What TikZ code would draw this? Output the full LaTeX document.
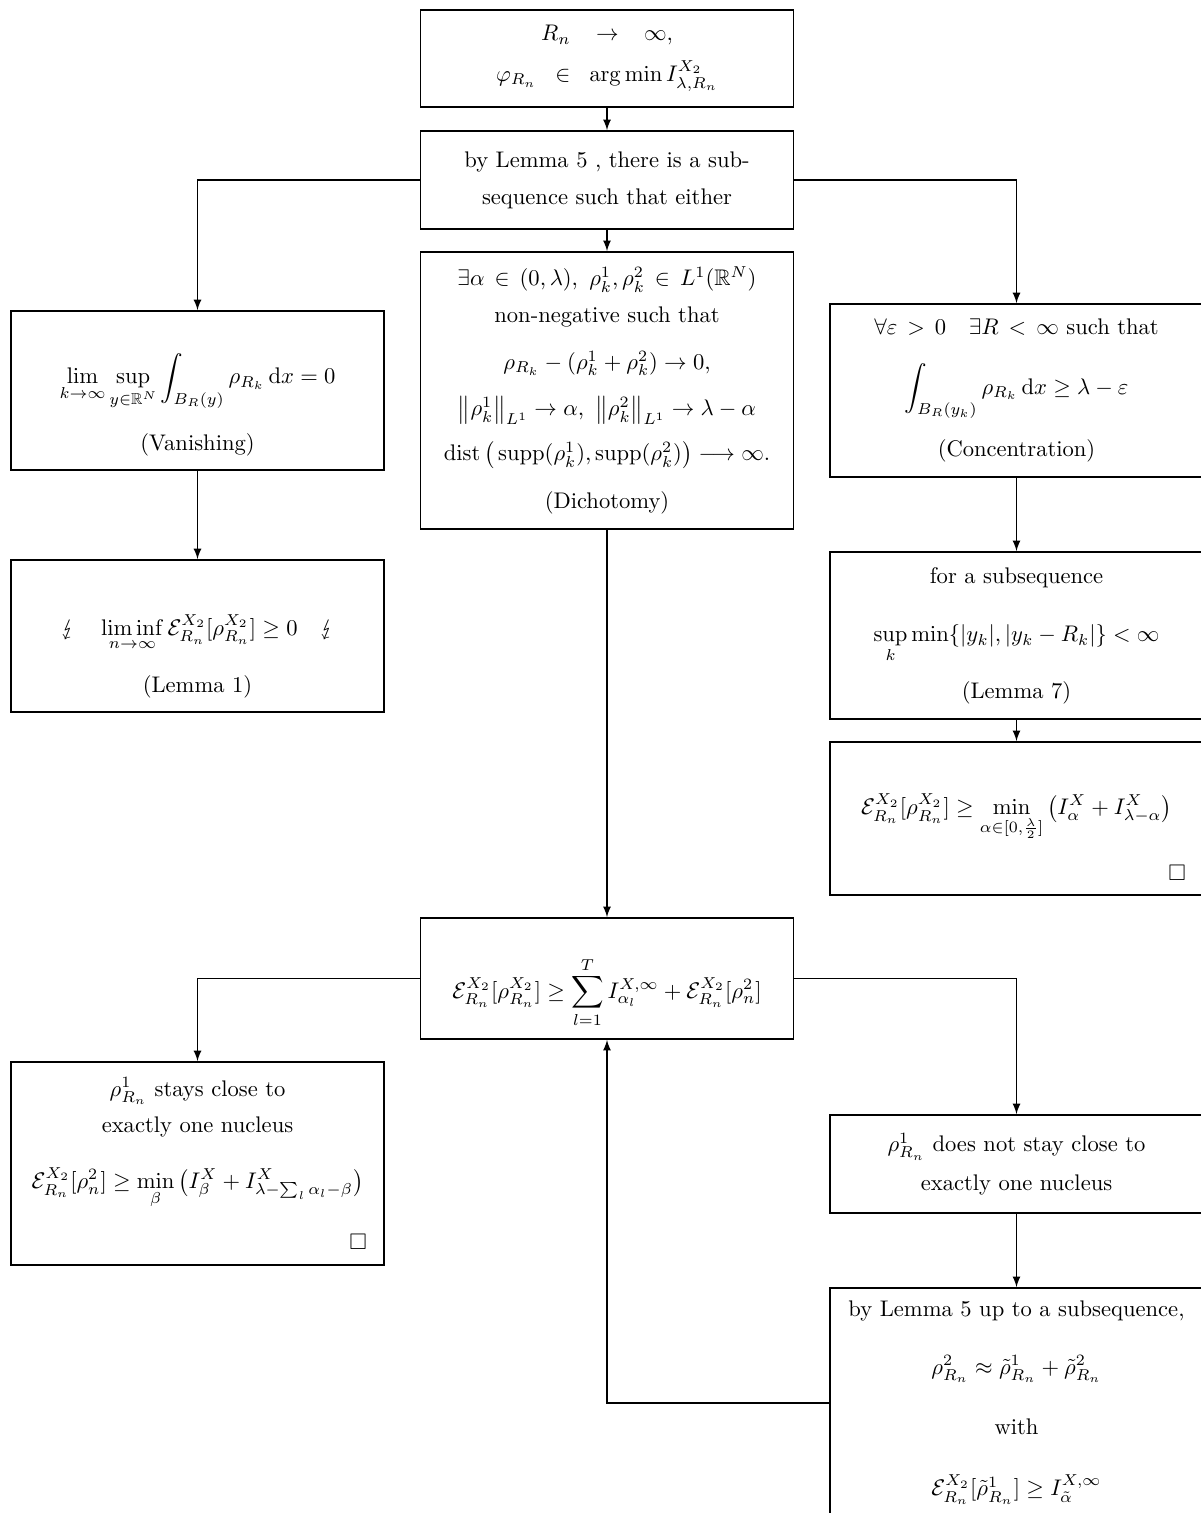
\documentclass[tikz,border=0pt]{standalone}
\usepackage{amsmath,amssymb}
\usepackage{stmaryrd}
\usepackage{tikz}

\begin{document}
\begin{tikzpicture}[x=0.4429pt,y=-0.4429pt,>=latex]
  \tikzstyle{block}=[rectangle,draw,thick,align=center,minimum width=165.2pt,inner sep=3.33pt]
  \tikzstyle{every node}=[block]
  \useasboundingbox (0,0) rectangle (1200,1513);
  \node[minimum height=43pt] (start) at (607,58.5) {$R_n\hskip8.5pt\to\hskip8.5pt\infty,$\\[6pt] $\varphi_{R_n}\;\;\in\;\;\arg\min I^{X_2}_{\lambda,R_n}$};
  \node[minimum height=43.4pt] (lemma5) at (607,180) {by Lemma 5 , there is a sub-\\[4.4pt] sequence such that either};
  \node[minimum height=122.7pt] (dich) at (607,390.5) {$\exists\alpha\,\in\,(0,\lambda),\ \rho^1_k,\rho^2_k\,\in\,L^1(\mathbb{R}^N)$\\[4pt] non-negative such that\\[9pt] $\rho_{R_k}-(\rho^1_k+\rho^2_k)\to0,$\\[8.5pt] $\big\|\rho^1_k\big\|_{L^1}\to\alpha,\ \big\|\rho^2_k\big\|_{L^1}\to\lambda-\alpha$\\[6.5pt] $\operatorname{dist}\big(\operatorname{supp}(\rho^1_k),\operatorname{supp}(\rho^2_k)\big)\longrightarrow\infty.$\\[9pt] (Dichotomy)};
  \node[minimum height=70.4pt] (van) at (197.5,390.5) {\rule{0pt}{26pt}$\displaystyle\lim_{k\to\infty}\sup_{y\in\mathbb{R}^N}\int_{B_R(y)}\rho_{R_k}\,\mathrm{d}x=0$\\[9.5pt] (Vanishing)};
  \node[minimum height=76.6pt] (conc) at (1016.5,390.5) {$\forall\varepsilon\,>\,0\quad\exists R\,<\,\infty$ such that\\[11.5pt] $\displaystyle\int_{B_R(y_k)}\rho_{R_k}\,\mathrm{d}x\ge\lambda-\varepsilon$\\[8.4pt] (Concentration)};
  \node[minimum height=67.3pt] (lem1) at (197.5,636) {\rule{0pt}{27pt}$\lightning\quad\displaystyle\liminf_{n\to\infty}\mathcal{E}^{X_2}_{R_n}[\rho^{X_2}_{R_n}]\ge0\quad\lightning$\\[9.8pt] (Lemma 1)};
  \node[minimum height=74pt] (lem7) at (1016.5,635.5) {for a subsequence\\[14pt] $\displaystyle\sup_k\min\{|y_k|,|y_k-R_k|\}<\infty$\\[7pt] (Lemma 7)};
  \node[minimum height=67.8pt] (minbox) at (1016.5,818.5) {\rule{0pt}{26pt}$\displaystyle\mathcal{E}^{X_2}_{R_n}[\rho^{X_2}_{R_n}]\ge\min_{\alpha\in[0,\frac{\lambda}{2}]}\big(I^X_\alpha+I^X_{\lambda-\alpha}\big)$\\[10.2pt] \makebox[150pt][r]{$\square$}};
  \node[minimum height=53.6pt] (sum) at (607,978.5) {\rule{0pt}{30.6pt}$\displaystyle\mathcal{E}^{X_2}_{R_n}[\rho^{X_2}_{R_n}]\ge\sum_{l=1}^{T}I^{X,\infty}_{\alpha_l}+\mathcal{E}^{X_2}_{R_n}[\rho^2_n]$};
  \node[minimum height=89.9pt] (stays) at (197.5,1163.5) {$\rho^1_{R_n}$ stays close to\\[4pt] exactly one nucleus\\[13pt] $\displaystyle\mathcal{E}^{X_2}_{R_n}[\rho^2_n]\ge\min_{\beta}\big(I^X_\beta+I^X_{\lambda-\sum_l\alpha_l-\beta}\big)$\\[10.2pt] \makebox[150pt][r]{$\square$}};
  \node[minimum height=43.4pt] (notstay) at (1016.5,1164) {$\rho^1_{R_n}$ does not stay close to\\[5pt] exactly one nucleus};
  \node[minimum height=101.9pt] (lem5b) at (1016.5,1403) {by Lemma 5 up to a subsequence,\\[13.3pt] $\rho^2_{R_n}\approx\tilde\rho^1_{R_n}+\tilde\rho^2_{R_n}$\\[15pt] with\\[15pt] $\mathcal{E}^{X_2}_{R_n}[\tilde\rho^1_{R_n}]\ge I^{X,\infty}_{\tilde\alpha}$};
  \draw[->,semithick] (start) -- (lemma5);
  \draw[->,semithick] (lemma5) -- (dich);
  \draw[->,semithick] (lemma5.west) -| (van.north);
  \draw[->,semithick] (lemma5.east) -| (conc.north);
  \draw[->,semithick] (van) -- (lem1);
  \draw[->,semithick] (conc) -- (lem7);
  \draw[->,semithick] (lem7) -- (minbox);
  \draw[->,semithick] (dich) -- (sum);
  \draw[->,semithick] (sum.west) -| (stays.north);
  \draw[->,semithick] (sum.east) -| (notstay.north);
  \draw[->,semithick] (notstay) -- (lem5b);
  \draw[->,semithick] (lem5b.west) -| (sum.south);
\end{tikzpicture}
\end{document}
